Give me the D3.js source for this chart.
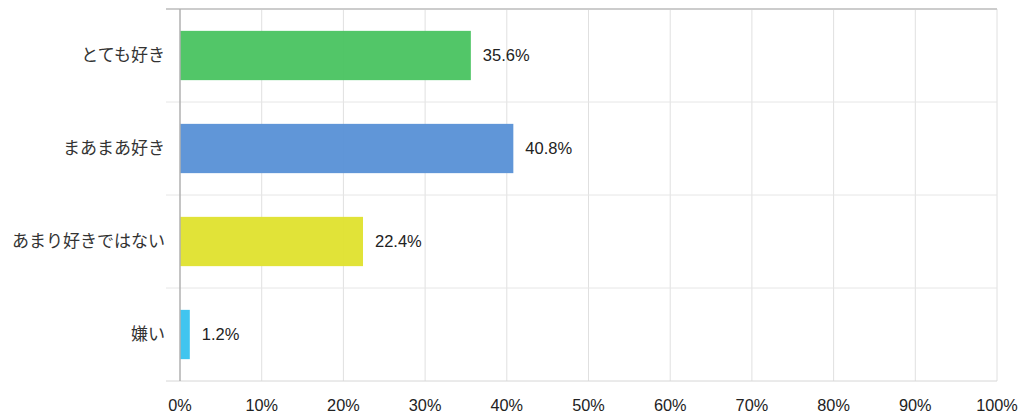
<!DOCTYPE html>
<html><head><meta charset="utf-8">
<script src="https://cdn.jsdelivr.net/npm/d3@7"></script>
<style>
html,body{margin:0;padding:0;background:#fff;}
svg{display:block;}
</style></head>
<body>
<svg id="chart" width="1024" height="419"></svg>
<script>
const categories = ["とても好き", "まあまあ好き", "あまり好きではない", "嫌い"];
const values = [35.6, 40.8, 22.4, 1.2];
const colors = ["#4cc463", "#5b93d7", "#e0e232", "#3bc3ee"];
const tickValues = [0, 10, 20, 30, 40, 50, 60, 70, 80, 90, 100];

(function () {
const svg = d3.select("#chart");
const mLeft = 180, mRight = 997, mTop = 9, mBottom = 381;

const x = d3.scaleLinear().domain([0, 100]).range([mLeft, mRight]);
const y = d3.scaleBand().domain(categories).range([mTop, mBottom]).paddingInner(0.47).paddingOuter(0.235);
const yb = d3.scaleBand().domain(categories).range([mTop, mBottom]);

// vertical grid
svg.append("g").selectAll("line").data(tickValues.slice(1)).join("line")
  .attr("x1", d => x(d)).attr("x2", d => x(d))
  .attr("y1", mTop).attr("y2", mBottom)
  .attr("stroke", "#e0e0e0").attr("stroke-width", 1);

// horizontal separators
const seps = categories.slice(1).map(c => yb(c));
svg.append("g").selectAll("line").data(seps).join("line")
  .attr("x1", 166).attr("x2", mRight)
  .attr("y1", d => d).attr("y2", d => d)
  .attr("stroke", "#e6e6e6").attr("stroke-width", 1);

// top & bottom border
svg.append("line").attr("x1", 166).attr("x2", mRight).attr("y1", mTop).attr("y2", mTop)
  .attr("stroke", "#cccccc").attr("stroke-width", 2);
svg.append("line").attr("x1", 166).attr("x2", mRight).attr("y1", mBottom).attr("y2", mBottom)
  .attr("stroke", "#d6d6d6").attr("stroke-width", 1);

// bars
svg.append("g").selectAll("rect").data(values).join("rect")
  .attr("x", x(0))
  .attr("y", (d, i) => y(categories[i]))
  .attr("width", d => x(d) - x(0))
  .attr("height", y.bandwidth())
  .attr("fill", (d, i) => colors[i])
  .attr("fill-opacity", 0.97);

// left axis line
svg.append("line").attr("x1", x(0)).attr("x2", x(0)).attr("y1", mTop).attr("y2", mBottom)
  .attr("stroke", "#b0b0b0").attr("stroke-width", 1.5);

// value labels
svg.append("g").selectAll("text").data(values).join("text")
  .attr("x", d => x(d) + 12)
  .attr("y", (d, i) => yb(categories[i]) + yb.bandwidth() / 2)
  .attr("dy", "0.35em")
  .attr("font-family", "Liberation Sans, Arial, sans-serif")
  .attr("font-size", 16.5)
  .attr("fill", "#222")
  .text(d => d.toFixed(1) + "%");

// category labels
svg.append("g").selectAll("text").data(categories).join("text")
  .attr("x", 165)
  .attr("y", d => yb(d) + yb.bandwidth() / 2)
  .attr("dy", "0.35em")
  .attr("text-anchor", "end")
  .attr("font-family", "Noto Sans CJK JP, sans-serif")
  .attr("font-size", 17)
  .attr("fill", "#333")
  .text(d => d);

// x tick labels
svg.append("g").selectAll("text").data(tickValues).join("text")
  .attr("x", d => x(d))
  .attr("y", 405)
  .attr("dy", "0.35em")
  .attr("text-anchor", "middle")
  .attr("font-family", "Liberation Sans, Arial, sans-serif")
  .attr("font-size", 16.3)
  .attr("fill", "#222")
  .text(d => d + "%");
})();
</script>
</body></html>
